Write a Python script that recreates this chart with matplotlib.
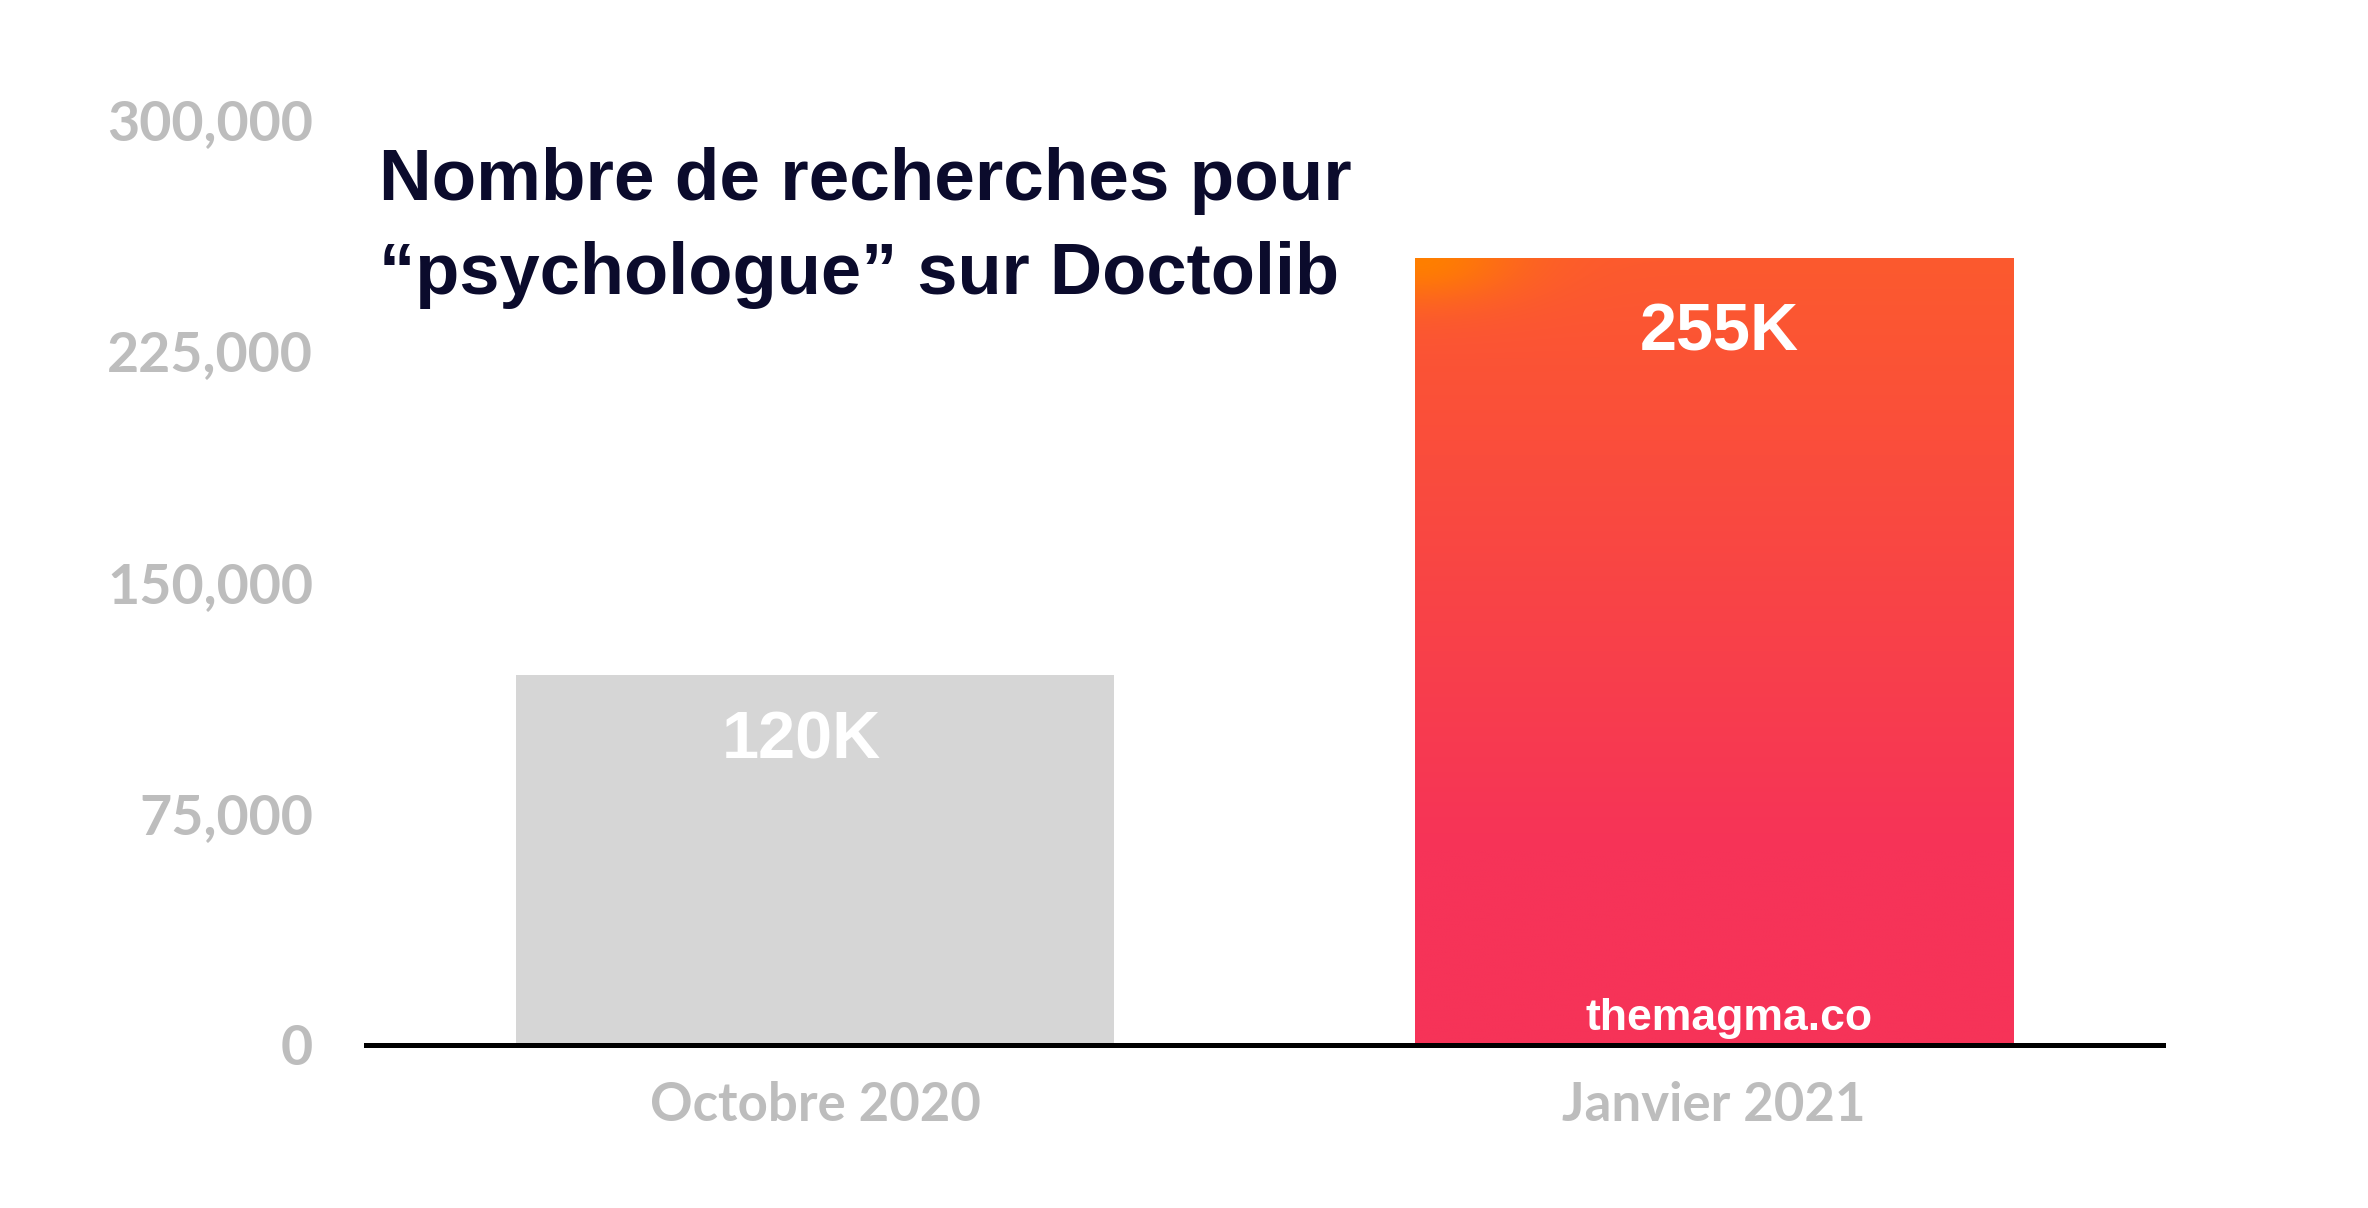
import matplotlib

matplotlib.use("Agg")
import matplotlib.pyplot as plt
import numpy as np
from matplotlib.colors import to_rgb
from matplotlib.ticker import FuncFormatter

# data
categories = ["Octobre 2020", "Janvier 2021"]
searches = [120000, 255000]
value_labels = ["120K", "255K"]
yticks = [0, 75000, 150000, 225000, 300000]

NAVY = "#0b0b2c"
GREY_BAR = "#d6d6d6"
GREY_TXT = "#bdbdbd"
ORANGE = "#ff7f00"
TOP = "#fc5a2e"
BOTTOM = "#f63358"

fig = plt.figure(figsize=(23.68, 12.08), dpi=100)
ax = fig.add_axes([0.1545, 0.135, 0.759, 0.766])

x = np.arange(len(categories))
bars = ax.bar(x, searches, width=0.666, color=[GREY_BAR, "none"], linewidth=0, zorder=2)

# gradient fill for the second bar
b = bars[1]
x0, y0 = b.get_x(), b.get_y()
w, h = b.get_width(), b.get_height()
ny, nx = 300, 200
v = np.linspace(0, 1, ny)[:, None]  # 0 = top
u = np.linspace(0, 1, nx)[None, :]
t = np.clip(v / 0.75, 0, 1)
base = (1 - t)[..., None] * np.array(to_rgb(TOP)) + t[..., None] * np.array(to_rgb(BOTTOM))
d = np.sqrt((u * 0.7) ** 2 + (v * 2.2) ** 2)
wo = np.exp(-(d / 0.12) ** 2)[..., None]
img = (1 - wo) * base + wo * np.array(to_rgb(ORANGE))
im = ax.imshow(img, extent=[x0, x0 + w, y0, y0 + h], origin="upper",
               aspect="auto", zorder=2, interpolation="bilinear")
im.set_clip_path(b)

# value labels sit just inside the top of each bar
nudges = [(-0.015, 21500), (0.006, 24500)]
for xi, val, lab, (dx, dy) in zip(x, searches, value_labels, nudges):
    ax.text(xi + dx, val - dy, lab, ha="center", va="center",
            fontsize=48, fontweight="bold", color="white",
            family="Liberation Sans", zorder=3)

ax.text(x[1] + 0.017, 8600, "themagma.co", ha="center", va="center",
        fontsize=32, fontweight="bold", color="white",
        family="Liberation Sans", zorder=3)

ax.set_xlim(-0.5, 1.5)
ax.set_ylim(0, 300000)
ax.set_xticks(x)
ax.set_xticklabels(categories)
ax.set_yticks(yticks)
ax.yaxis.set_major_formatter(FuncFormatter(lambda v, p: f"{int(v):,}"))

for lab in ax.get_xticklabels() + ax.get_yticklabels():
    lab.set_family("Lato")
    lab.set_fontweight("bold")
    lab.set_fontsize(38)
    lab.set_color(GREY_TXT)
for lab in ax.get_yticklabels():
    lab.set_fontsize(40)
ax.tick_params(axis="y", length=0, pad=38)
ax.tick_params(axis="x", length=0, pad=26)

for s in ["top", "right", "left"]:
    ax.spines[s].set_visible(False)
ax.spines["bottom"].set_linewidth(3.6)
ax.spines["bottom"].set_color("black")
ax.spines["bottom"].set_zorder(4)

fig.text(0.160, 0.850, "Nombre de recherches pour", ha="left", va="center",
         fontsize=52.5, fontweight="bold", color=NAVY, family="Liberation Sans")
fig.text(0.160, 0.772, "\u201cpsychologue\u201d sur Doctolib", ha="left", va="center",
         fontsize=52, fontweight="bold", color=NAVY, family="Liberation Sans")

fig.savefig("out.png", dpi=100, facecolor="white")
